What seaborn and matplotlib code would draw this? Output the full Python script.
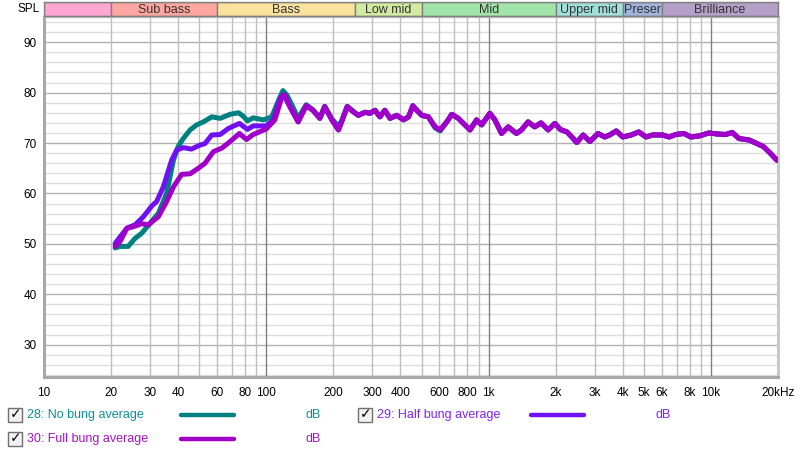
import numpy as np
import pandas as pd
import matplotlib
matplotlib.use("Agg")
import matplotlib.pyplot as plt
import seaborn as sns
from matplotlib.patches import Rectangle
from matplotlib.lines import Line2D

# ---------------- data ----------------
series_names = ["28: No bung average", "29: Half bung average", "30: Full bung average"]

freq_no_low = [20.9, 22.0, 23.9, 25.7, 27.5, 30.0, 32.7, 35.6, 38.2, 40.1, 42.3, 45.4, 48.6,
               52.1, 56.8, 62.0, 68.7, 75.0, 78.8, 82.2, 87.3, 97.0, 105.8, 113.5, 118.8,
               123.7, 130.5]
spl_no_low = [49.2, 49.5, 49.5, 51.1, 52.1, 54.1, 56.1, 60.0, 66.6, 69.3, 70.9, 72.6, 73.6,
              74.2, 75.2, 74.9, 75.7, 76.0, 75.3, 74.4, 75.0, 74.6, 75.2, 78.5, 80.4,
              79.5, 77.5]

freq_half_low = [20.9, 22.0, 23.6, 25.7, 28.0, 30.5, 32.1, 34.4, 37.5, 39.5, 42.3, 46.0,
                 50.3, 53.0, 56.8, 62.0, 67.5, 75.7, 82.2, 87.3, 100.0, 107.4, 115.5,
                 119.5, 127.6]
spl_half_low = [50.1, 51.4, 53.1, 53.8, 55.4, 57.5, 58.4, 61.3, 66.6, 68.6, 69.1, 68.8,
                69.6, 69.9, 71.6, 71.7, 72.9, 73.9, 72.7, 73.4, 73.4, 74.6, 78.9,
                79.6, 77.2]

freq_full_low = [20.9, 22.0, 23.6, 25.2, 27.5, 29.5, 32.7, 35.6, 38.2, 41.6, 45.4, 49.4,
                 53.0, 57.8, 63.1, 68.7, 75.7, 81.4, 87.3, 100.0, 109.2, 117.6, 121.3,
                 127.6]
spl_full_low = [49.5, 50.5, 53.1, 53.4, 54.0, 53.8, 55.4, 58.4, 61.3, 63.8, 63.9, 65.0,
                66.0, 68.3, 69.0, 70.3, 71.9, 70.7, 71.7, 72.8, 74.6, 79.2, 79.5,
                77.2]

# above ~135 Hz the three curves practically coincide
freq_high = [139, 151, 162, 174, 183, 197, 211, 218, 231, 246, 259, 278, 292, 308, 324,
             341, 360, 386, 414, 436, 456, 475, 500, 535, 574, 605, 648, 682, 730, 769,
             824, 882, 929, 1012, 1066, 1142, 1223, 1333, 1404, 1503, 1611, 1718, 1850,
             1983, 2098, 2248, 2365, 2490, 2660, 2850, 3102, 3325, 3500, 3747, 4010,
             4370, 4730, 5100, 5460, 6050, 6480, 6940, 7560, 8100, 8820, 9770, 10650,
             11630, 12450, 13340, 14850, 16070, 17200, 18450, 19770]
spl_high_no = [74.9, 77.6, 76.6, 75.0, 77.3, 74.8, 73.3, 74.4, 77.3, 76.3, 75.5, 76.1,
               75.9, 76.5, 75.2, 76.5, 74.9, 75.5, 74.6, 75.2, 77.4, 76.5, 75.5, 75.2,
               73.0, 72.4, 74.2, 75.7, 74.9, 73.9, 72.6, 74.6, 73.6, 75.9, 74.6, 71.9,
               73.2, 71.9, 72.6, 74.2, 73.2, 74.0, 72.6, 73.9, 72.7, 72.2, 71.2, 70.1,
               71.6, 70.3, 71.9, 71.2, 71.6, 72.4, 71.2, 71.6, 72.2, 71.2, 71.6, 71.6,
               71.2, 71.7, 71.9, 71.2, 71.4, 72.0, 71.8, 71.7, 72.1, 70.9, 70.6, 69.9,
               69.3, 68.0, 66.6]
spl_high = [74.2, 77.4, 76.5, 74.9, 77.2, 74.6, 72.6, 74.2, 77.2, 76.2, 75.5, 76.1, 75.9,
            76.5, 75.2, 76.5, 74.9, 75.5, 74.6, 75.2, 77.4, 76.5, 75.5, 75.2, 73.2, 72.6,
            74.2, 75.7, 74.9, 73.9, 72.6, 74.6, 73.6, 75.9, 74.6, 71.9, 73.2, 71.9, 72.6,
            74.2, 73.2, 74.0, 72.6, 73.9, 72.7, 72.2, 71.2, 70.1, 71.6, 70.3, 71.9, 71.2,
            71.6, 72.4, 71.2, 71.6, 72.2, 71.2, 71.6, 71.6, 71.2, 71.7, 71.9, 71.2, 71.4,
            72.0, 71.8, 71.7, 72.1, 70.9, 70.6, 69.9, 69.3, 68.0, 66.6]

band_names = ["", "Sub bass", "Bass", "Low mid", "Mid", "Upper mid", "Preser", "Brilliance"]
band_edges = [10, 20, 60, 250, 500, 2000, 4000, 6000, 20000]
band_colors = ["#FFA6D2", "#FFA6A0", "#FAE29E", "#D2EBA0", "#A0E4AA", "#A0E0D8",
               "#A0B4DC", "#B4A0C8"]

xtick_vals = [10, 20, 30, 40, 60, 80, 100, 200, 300, 400, 600, 800, 1000, 2000, 3000,
              4000, 5000, 6000, 8000, 10000, 20000]
xtick_labels = ["10", "20", "30", "40", "60", "80", "100", "200", "300", "400", "600",
                "800", "1k", "2k", "3k", "4k", "5k", "6k", "8k", "10k", "20kHz"]
ytick_vals = [30, 40, 50, 60, 70, 80, 90]

line_colors = ["#008080", "#7010F5", "#A000C8"]
text_colors = ["#08909A", "#7F22F5", "#A512C2"]

# ---------------- build table ----------------
rows = []
for name, fl, sl, sh in [
    (series_names[0], freq_no_low, spl_no_low, spl_high_no),
    (series_names[1], freq_half_low, spl_half_low, spl_high),
    (series_names[2], freq_full_low, spl_full_low, spl_high),
]:
    for f, s in zip(fl + freq_high, sl + sh):
        rows.append({"series": name, "freq": f, "spl": s})
df = pd.DataFrame(rows)

# ---------------- figure ----------------
sns.set_style("white")
plt.rcParams["font.family"] = ["Liberation Sans", "DejaVu Sans"]

W, H = 800, 454
fig = plt.figure(figsize=(W / 100, H / 100), dpi=100)
fig.patch.set_facecolor("white")

def fx(px):
    return px / W

def fy(py):
    return 1 - py / H

L, R, T, B = 44, 778, 17, 377
ax = fig.add_axes([fx(L), fy(B), fx(R) - fx(L), fy(T) - fy(B)])
ax.set_xscale("log")
ax.set_xlim(10, 20000)
ax.set_ylim(23.6, 95)

# grid
for v in np.arange(24, 95, 2):
    if v % 10 == 0:
        continue
    ax.axhline(v, color="#DEDEDE", lw=1, zorder=0)
for v in ytick_vals:
    ax.axhline(v, color="#B0B0B0", lw=1, zorder=0.5)
for dec in [10, 100, 1000, 10000]:
    for m in range(2, 10):
        if dec * m < 20000:
            ax.axvline(dec * m, color="#BEBEBE", lw=1, zorder=0.5)
for v in [100, 1000, 10000]:
    ax.axvline(v, color="#808080", lw=1, zorder=0.6)

sns.lineplot(data=df, x="freq", y="spl", hue="series", hue_order=series_names,
             palette=line_colors, sort=False, estimator=None, lw=3.6, ax=ax,
             legend=False, zorder=3)
for ln in ax.get_lines():
    ln.set_solid_capstyle("round")
    ln.set_solid_joinstyle("round")

ax.set_xticks(xtick_vals)
ax.set_xticklabels(xtick_labels)
ax.xaxis.set_minor_locator(matplotlib.ticker.NullLocator())
ax.set_yticks(ytick_vals)
ax.set_yticklabels([str(v) for v in ytick_vals])
ax.tick_params(axis="both", length=0, labelsize=8.5, colors="#000000")
ax.tick_params(axis="x", pad=7)
ax.tick_params(axis="y", pad=5)
ax.set_xlabel("")
ax.set_ylabel("")
for s in ["left", "bottom"]:
    ax.spines[s].set_color("#A8A8A8")
    ax.spines[s].set_linewidth(2.2)
ax.spines["right"].set_color("#C8C8C8")
ax.spines["right"].set_linewidth(2.2)
ax.spines["top"].set_color("#C0C0C0")
ax.spines["top"].set_linewidth(1)

# band strip
bax = fig.add_axes([fx(L), fy(16), fx(R) - fx(L), fy(2) - fy(16)])
bax.set_xscale("log")
bax.set_xlim(10, 20000)
bax.set_ylim(0, 1)
for i, nm in enumerate(band_names):
    a, b = band_edges[i], band_edges[i + 1]
    bax.axvspan(a, b, facecolor=band_colors[i], edgecolor="#808080", lw=1)
    if nm:
        bax.text(np.sqrt(a * b), 0.45, nm, ha="center", va="center", fontsize=9,
                 color="#333333")
bax.set_xticks([])
bax.set_yticks([])
for s in bax.spines.values():
    s.set_color("#808080")
    s.set_linewidth(1)
fig.text(fx(40), fy(9), "SPL", ha="right", va="center", fontsize=8.5, color="#000000")

# legend
legend_pos = [(8, 415, 0), (358, 415, 1), (8, 439, 2)]
for x0, y0, i in legend_pos:
    fig.add_artist(Rectangle((fx(x0), fy(y0 + 7)), 14 / W, 14 / H,
                             transform=fig.transFigure, facecolor="#F2F2F2",
                             edgecolor="#707070", lw=1))
    fig.text(fx(x0 + 7.5), fy(y0 - 0.5), "\u2713", ha="center", va="center",
             fontsize=10, color="#000000", family=["DejaVu Sans"], fontweight="bold")
    fig.text(fx(x0 + 19), fy(y0), series_names[i], ha="left", va="center",
             fontsize=9, color=text_colors[i])
    fig.add_artist(Line2D([fx(x0 + 173), fx(x0 + 226)], [fy(y0), fy(y0)],
                          transform=fig.transFigure, color=line_colors[i], lw=3.2,
                          solid_capstyle="round"))
    fig.text(fx(x0 + 298), fy(y0), "dB", ha="left", va="center", fontsize=9,
             color=text_colors[i])

fig.savefig("out.png", dpi=100, facecolor="white")
